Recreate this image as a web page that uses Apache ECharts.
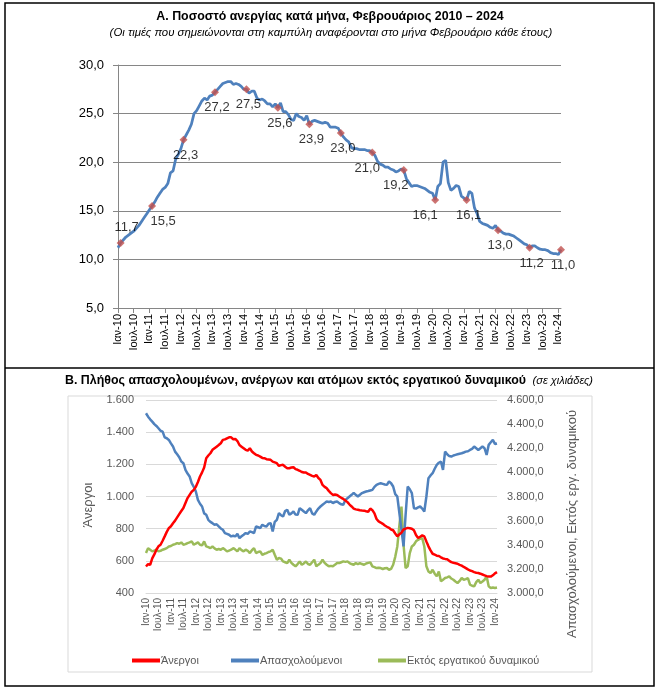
<!DOCTYPE html>
<html><head><meta charset="utf-8">
<script src="https://cdn.jsdelivr.net/npm/echarts@6/dist/echarts.min.js"></script>
<style>html,body{margin:0;padding:0;background:#fff}#c{width:660px;height:691px}</style>
</head><body><div id="c"></div>
<script>
// ---------- DATA ----------
const monthNames = ['Ιαν','Φεβ','Μαρ','Απρ','Μαϊ','Ιουν','Ιουλ','Αυγ','Σεπ','Οκτ','Νοε','Δεκ'];
const years = ['10','11','12','13','14','15','16','17','18','19','20','21','22','23','24'];
const lastMonthCount = 2; // 2024: Ιαν, Φεβ

// Unemployment rate (%), monthly Jan 2010 – Feb 2024
const rate = [
  11.2,11.7,12.0,12.3,12.5,12.7,12.9,13.2,13.5,13.9,14.3,14.7,
  15.1,15.5,15.9,16.4,16.8,17.2,17.4,17.8,18.9,19.1,20.3,20.8,
  21.4,22.3,22.8,23.3,23.9,25.0,25.3,25.8,26.3,26.6,26.4,26.8,
  26.9,27.2,27.5,27.8,28.1,28.2,28.3,28.3,28.0,28.1,28.0,27.8,
  27.5,27.5,27.1,27.3,27.3,26.6,26.4,26.5,26.3,26.0,26.0,25.7,
  26.0,25.6,26.1,25.2,25.2,24.9,24.4,24.3,25.0,24.7,24.6,24.3,
  24.8,23.9,24.2,24.3,24.2,24.1,24.0,24.1,24.0,23.6,23.6,23.6,
  23.5,23.0,22.6,22.3,22.1,21.5,21.4,21.4,21.3,21.3,21.3,21.2,
  21.2,21.0,20.7,20.1,19.8,19.7,19.5,19.5,19.3,19.2,19.0,19.1,
  19.3,19.2,18.3,17.9,17.5,17.6,17.6,17.5,17.4,17.3,17.1,16.9,
  16.8,16.1,17.5,17.8,20.0,20.2,17.9,17.1,17.3,17.6,17.5,16.5,
  16.3,16.1,17.0,16.8,15.3,14.7,13.9,13.7,13.6,13.5,13.3,13.2,
  13.5,13.0,12.9,12.7,12.6,12.6,12.5,12.4,12.2,12.0,11.8,11.6,
  11.5,11.2,11.4,11.4,11.2,11.05,11.0,11.0,10.9,10.7,10.6,10.6,
  10.5,11.0
];

// Unemployed (thousands)
const unemployed = [
  565,580,575,615,640,669,690,700,725,752,780,803,
  815,834,850,870,890,910,928,960,990,1010,1030,1041,
  1060,1090,1124,1150,1180,1238,1255,1269,1290,1300,1310,1320,
  1331,1352,1355,1362,1368,1368,1356,1358,1345,1320,1310,1300,
  1290,1285,1300,1280,1269,1259,1255,1248,1240,1238,1232,1230,
  1228,1217,1212,1207,1190,1195,1197,1185,1176,1176,1180,1182,
  1170,1166,1160,1152,1149,1149,1140,1134,1128,1124,1134,1115,
  1103,1072,1060,1052,1035,1021,1010,1012,1010,1000,992,985,
  975,965,950,938,925,920,918,915,913,912,908,905,
  925,915,895,860,845,838,830,820,812,805,795,790,
  770,752,765,775,795,800,805,803,800,790,760,742,
  750,758,752,720,690,665,644,638,632,630,622,615,
  612,610,600,592,588,585,582,575,570,562,555,547,
  540,536,530,526,524,520,515,510,505,503,502,510,
  522,530
];

// Employed (thousands)
const employed = [
  4490,4462,4440,4421,4400,4385,4366,4345,4338,4290,4283,4269,
  4240,4214,4172,4150,4126,4090,4076,4021,3990,3966,3910,3880,
  3841,3772,3740,3717,3660,3648,3607,3590,3579,3566,3570,3552,
  3535,3524,3497,3490,3483,3469,3475,3469,3490,3455,3470,3483,
  3497,3490,3510,3505,3497,3552,3545,3538,3566,3555,3552,3575,
  3579,3510,3590,3607,3662,3645,3634,3680,3690,3648,3660,3676,
  3650,3648,3703,3690,3676,3662,3685,3703,3660,3648,3676,3700,
  3717,3731,3745,3759,3755,3759,3745,3755,3759,3745,3735,3731,
  3772,3786,3800,3814,3830,3814,3800,3815,3828,3835,3841,3845,
  3850,3855,3880,3897,3905,3910,3905,3900,3897,3924,3910,3883,
  3820,3800,3662,3524,3386,3650,3883,3860,3828,3703,3700,3710,
  3717,3700,3676,3800,3952,3975,3993,4030,4062,4080,4090,4021,
  4172,4150,4135,4131,4140,4145,4150,4155,4159,4165,4172,4175,
  4186,4195,4214,4200,4186,4200,4214,4200,4145,4228,4250,4269,
  4236,4240
];

// Outside labour force (thousands)
const outsideLF = [
  3331,3372,3359,3345,3352,3359,3345,3350,3359,3365,3372,3386,
  3390,3400,3405,3414,3408,3419,3400,3405,3414,3420,3428,3400,
  3410,3419,3400,3395,3428,3386,3380,3372,3386,3370,3359,3365,
  3359,3372,3360,3345,3352,3359,3372,3360,3345,3372,3355,3345,
  3359,3350,3331,3355,3372,3331,3340,3345,3317,3325,3331,3340,
  3345,3359,3317,3276,3290,3285,3262,3255,3248,3276,3250,3234,
  3221,3240,3262,3234,3245,3262,3240,3234,3255,3276,3221,3235,
  3248,3276,3250,3234,3221,3225,3221,3235,3248,3248,3255,3262,
  3258,3262,3248,3240,3234,3248,3240,3248,3240,3234,3245,3250,
  3254,3221,3215,3207,3210,3207,3199,3205,3207,3193,3200,3234,
  3300,3386,3560,3717,3400,3207,3221,3331,3386,3400,3428,3441,
  3450,3455,3386,3221,3179,3166,3193,3160,3138,3179,3097,3110,
  3124,3130,3138,3120,3110,3095,3083,3100,3124,3110,3115,3124,
  3069,3060,3055,3090,3110,3083,3095,3110,3138,3055,3041,3045,
  3041,3045
];

const seriesNames = ['Άνεργοι','Απασχολούμενοι','Εκτός εργατικού δυναμικού'];

// ---------- BUILD ----------
const categories = [];
years.forEach((y, yi) => {
  const n = yi === years.length - 1 ? lastMonthCount : 12;
  for (let m = 0; m < n; m++) categories.push(monthNames[m] + '-' + y);
});
const febPoints = [];
categories.forEach((c, i) => { if (c.startsWith('Φεβ')) febPoints.push([i, rate[i]]); });

// label placement tweaks (style only)
const labelTweaks = {
  0: {position: 'top', offset: [6, 0]},
  1: {offset: [11, 0]},
  8: {offset: [-5, 0]},
  9: {offset: [-8, 0]},
  10: {offset: [-10, 0]}
};

const comma1 = v => v.toFixed(1).replace('.', ',');
const thou = v => String(v).replace(/\B(?=(\d{3})+(?!\d))/g, '.');
const thou1 = v => thou(Math.round(v)) + ',0';

const FF = 'Liberation Sans';
const chart = echarts.init(document.getElementById('c'), null, {renderer: 'canvas'});

chart.setOption({
  backgroundColor: '#ffffff',
  animation: false,
  textStyle: {fontFamily: FF},
  grid: [
    {left: 118, top: 65, width: 443, height: 243, outerBoundsMode: 'none'},
    {left: 146, top: 400, width: 351, height: 193, outerBoundsMode: 'none'}
  ],
  xAxis: [
    {
      gridIndex: 0, type: 'category', data: categories, boundaryGap: false,
      axisLine: {lineStyle: {color: '#868686', width: 1}},
      axisTick: {interval: 5, length: 5, lineStyle: {color: '#868686'}},
      axisLabel: {interval: 5, rotate: 90, fontSize: 11, color: '#000', margin: 6, fontFamily: FF}
    },
    {
      gridIndex: 1, type: 'category', data: categories, boundaryGap: false,
      axisLine: {lineStyle: {color: '#d9d9d9', width: 1}},
      axisTick: {show: false},
      axisLabel: {interval: 5, rotate: 90, fontSize: 10, color: '#595959', margin: 5, fontFamily: FF}
    }
  ],
  yAxis: [
    {
      gridIndex: 0, type: 'value', min: 5, max: 30, interval: 5,
      axisLine: {show: true, lineStyle: {color: '#868686'}},
      axisTick: {show: true, length: 5, lineStyle: {color: '#868686'}},
      splitLine: {lineStyle: {color: '#868686', width: 1}},
      axisLabel: {formatter: comma1, fontSize: 13, color: '#000', margin: 14, fontFamily: FF}
    },
    {
      gridIndex: 1, type: 'value', min: 400, max: 1600, interval: 200,
      axisLine: {show: false}, axisTick: {show: false},
      splitLine: {lineStyle: {color: '#d9d9d9', width: 1}},
      axisLabel: {formatter: thou, fontSize: 11, color: '#595959', margin: 12, fontFamily: FF}
    },
    {
      gridIndex: 1, type: 'value', position: 'right', min: 3000, max: 4600, interval: 200,
      axisLine: {show: false}, axisTick: {show: false}, splitLine: {show: false},
      axisLabel: {formatter: thou1, fontSize: 11, color: '#595959', margin: 10, fontFamily: FF}
    }
  ],
  legend: [
    {data: [seriesNames[0]], left: 127, top: 650, icon: 'rect', itemWidth: 28, itemHeight: 4, itemGap: 0,
     textStyle: {fontSize: 11, color: '#595959', fontFamily: FF, padding: [0,0,0,-4]}},
    {data: [seriesNames[1]], left: 226, top: 650, icon: 'rect', itemWidth: 28, itemHeight: 4, itemGap: 0,
     textStyle: {fontSize: 11, color: '#595959', fontFamily: FF, padding: [0,0,0,-4]}},
    {data: [seriesNames[2]], left: 373, top: 650, icon: 'rect', itemWidth: 28, itemHeight: 4, itemGap: 0,
     textStyle: {fontSize: 11, color: '#595959', fontFamily: FF, padding: [0,0,0,-4]}}
  ],
  series: [
    {
      type: 'line', xAxisIndex: 0, yAxisIndex: 0, data: rate, showSymbol: false, symbol: 'none',
      lineStyle: {color: '#4F81BD', width: 2.75}, itemStyle: {color: '#4F81BD'}, z: 2
    },
    {
      type: 'scatter', xAxisIndex: 0, yAxisIndex: 0, symbol: 'diamond', symbolSize: 8,
      itemStyle: {color: '#C0504D'}, z: 3,
      data: febPoints.map((p, k) => {
        const t = labelTweaks[k] || {};
        return {value: p, label: {position: t.position || 'bottom', offset: t.offset || [2, 0]}};
      }),
      label: {show: true, position: 'bottom', distance: 5, fontSize: 13, color: '#000', fontFamily: FF,
              formatter: p => comma1(p.value[1])}
    },
    {
      name: seriesNames[0], type: 'line', xAxisIndex: 1, yAxisIndex: 1, data: unemployed,
      showSymbol: false, symbol: 'none', lineStyle: {color: '#FF0000', width: 2.5}, itemStyle: {color: '#FF0000'}, z: 4
    },
    {
      name: seriesNames[1], type: 'line', xAxisIndex: 1, yAxisIndex: 2, data: employed,
      showSymbol: false, symbol: 'none', lineStyle: {color: '#4F81BD', width: 2.5}, itemStyle: {color: '#4F81BD'}, z: 3
    },
    {
      name: seriesNames[2], type: 'line', xAxisIndex: 1, yAxisIndex: 2, data: outsideLF,
      showSymbol: false, symbol: 'none', lineStyle: {color: '#9BBB59', width: 2.5}, itemStyle: {color: '#9BBB59'}, z: 2
    }
  ],
  graphic: [
    {type: 'rect', shape: {x: 5, y: 3, width: 649, height: 683}, style: {fill: 'none', stroke: '#000', lineWidth: 1.5}, silent: true},
    {type: 'line', shape: {x1: 5, y1: 368, x2: 654, y2: 368}, style: {stroke: '#000', lineWidth: 1.5}, silent: true},
    {type: 'rect', shape: {x: 68, y: 396, width: 524, height: 276}, style: {fill: 'none', stroke: '#d9d9d9', lineWidth: 1}, silent: true, z: -1},
    {type: 'text', x: 330, y: 17, style: {text: 'Α. Ποσοστό ανεργίας κατά μήνα, Φεβρουάριος 2010 – 2024',
      fontFamily: FF, fontWeight: 'bold', fontSize: 12.4, fill: '#000', textAlign: 'center', textVerticalAlign: 'middle'}},
    {type: 'text', x: 331, y: 33, style: {text: '(Οι τιμές που σημειώνονται στη καμπύλη αναφέρονται στο μήνα Φεβρουάριο κάθε έτους)',
      fontFamily: FF, fontStyle: 'italic', fontSize: 11.4, fill: '#000', textAlign: 'center', textVerticalAlign: 'middle'}},
    {type: 'text', x: 65, y: 381, style: {
      text: '{b|Β. Πλήθος απασχολουμένων, ανέργων και ατόμων εκτός εργατικού δυναμικού}  {i|(σε χιλιάδες)}',
      rich: {b: {fontFamily: FF, fontWeight: 'bold', fontSize: 12.4, fill: '#000', color: '#000'},
             i: {fontFamily: FF, fontStyle: 'italic', fontSize: 11, fill: '#000', color: '#000'}},
      textAlign: 'left', textVerticalAlign: 'middle'}},
    {type: 'text', x: 88, y: 505, rotation: Math.PI / 2, style: {text: 'Άνεργοι',
      fontFamily: FF, fontSize: 13, fill: '#595959', textAlign: 'center', textVerticalAlign: 'middle'}},
    {type: 'text', x: 572, y: 524, rotation: Math.PI / 2, style: {text: 'Απασχολούμενοι, Εκτός εργ. δυναμικού',
      fontFamily: FF, fontSize: 13, fill: '#595959', textAlign: 'center', textVerticalAlign: 'middle'}}
  ]
});
</script>
</body></html>
